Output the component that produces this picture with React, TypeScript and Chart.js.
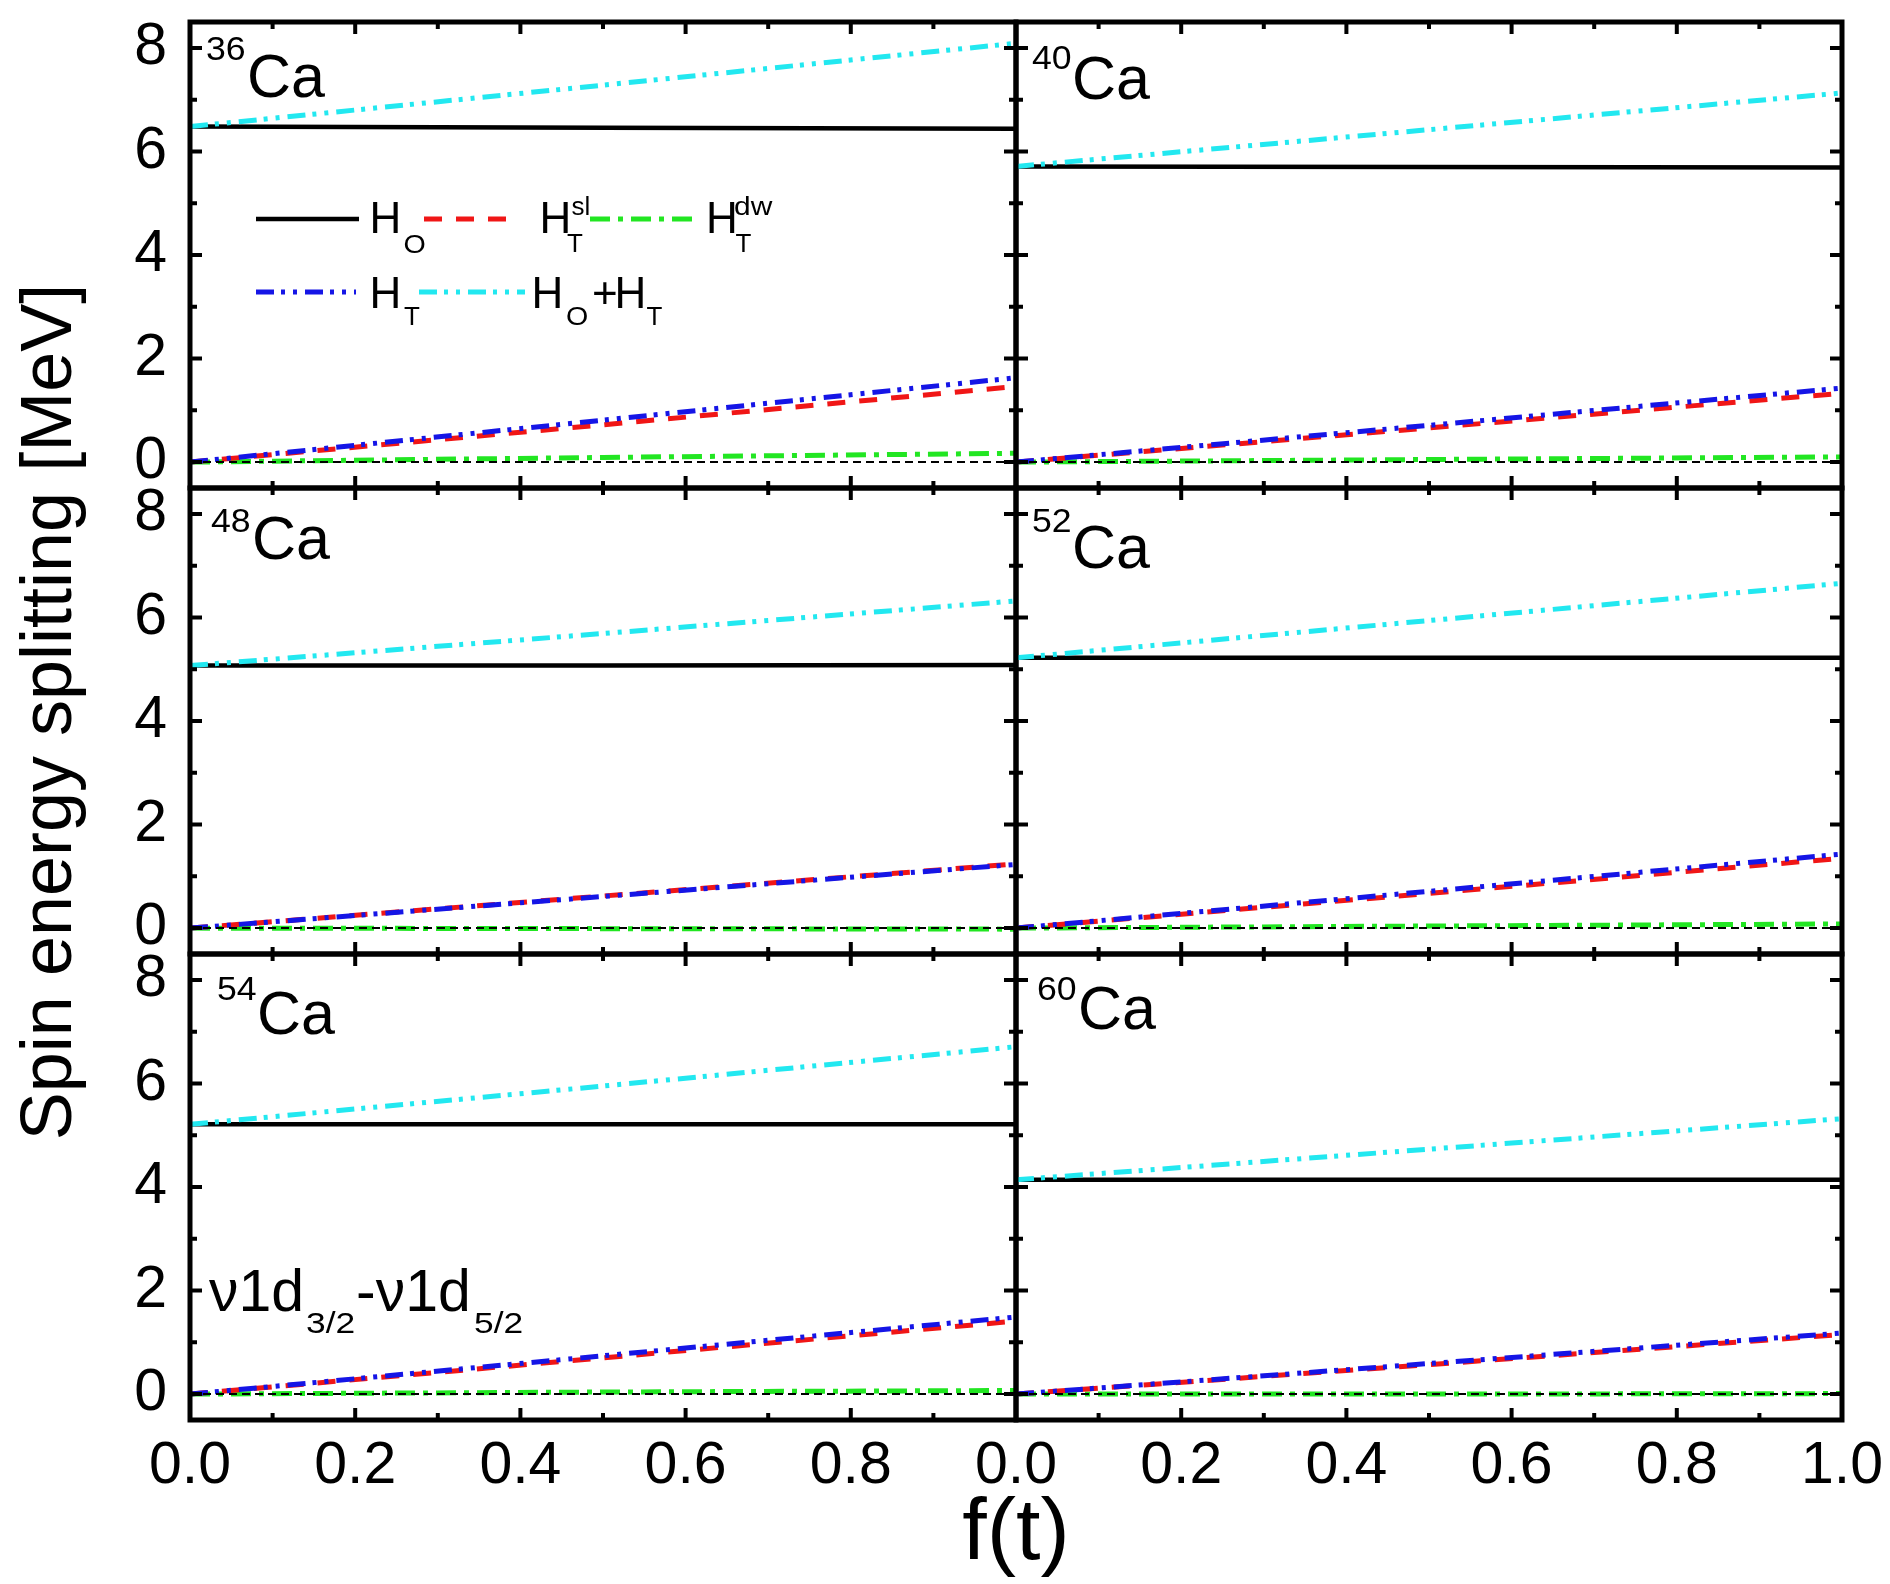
"use client"

import { useEffect, useRef } from "react"
import { Chart, registerables } from "chart.js"

Chart.register(...registerables)

// values (spin splitting in MeV vs f(t))
const nuclei = ["36", "40", "48", "52", "54", "60"]
const fValues = [0, 0.5, 1.0]
const hO = [
  [6.48, 6.46, 6.44],
  [5.71, 5.7, 5.69],
  [5.07, 5.07, 5.08],
  [5.22, 5.22, 5.22],
  [5.21, 5.21, 5.21],
  [4.14, 4.14, 4.14],
]
const hTsl = [
  [0, 0.72, 1.46],
  [0, 0.66, 1.33],
  [0, 0.62, 1.24],
  [0, 0.67, 1.35],
  [0, 0.7, 1.41],
  [0, 0.57, 1.15],
]
const hTdw = [
  [0, 0.09, 0.17],
  [0, 0.05, 0.1],
  [0, -0.01, -0.02],
  [0, 0.04, 0.08],
  [0, 0.04, 0.07],
  [0, 0.0, 0.01],
]
const hT = [
  [0, 0.81, 1.63],
  [0, 0.71, 1.43],
  [0, 0.61, 1.23],
  [0, 0.71, 1.43],
  [0, 0.74, 1.49],
  [0, 0.59, 1.18],
]
const hOplusT = [
  [6.48, 7.28, 8.09],
  [5.71, 6.42, 7.13],
  [5.07, 5.69, 6.32],
  [5.22, 5.94, 6.66],
  [5.21, 5.95, 6.71],
  [4.14, 4.73, 5.32],
]
const zeroLine = [0, 0, 0]
const xTicks = [0, 0.1, 0.2, 0.3, 0.4, 0.5, 0.6, 0.7, 0.8, 0.9, 1.0]
const yTicks = [0, 1, 2, 3, 4, 5, 6, 7, 8]

const W = 1890
const H = 1584
const PLOT_LEFT = 190
const PLOT_TOP = 22
const PANEL_W = 826
const PANEL_H = 466
const FONT = "'Liberation Sans', Arial, Helvetica, sans-serif"

const SERIES = [
  { key: "zero", values: () => zeroLine, color: "#000000", dash: [8, 5], width: 2 },
  { key: "HT", values: (i: number) => hT[i], color: "#1515e6", dash: [18, 7, 4, 8, 4, 8], width: 5 },
  { key: "sl", values: (i: number) => hTsl[i], color: "#f01616", dash: [18, 14], width: 5 },
  { key: "dw", values: (i: number) => hTdw[i], color: "#22e622", dash: [20, 8, 5, 8], width: 5 },
  { key: "sum", values: (i: number) => hOplusT[i], color: "#22e8f0", dash: [18, 7, 4, 8, 4, 8], width: 5 },
  { key: "HO", values: (i: number) => hO[i], color: "#000000", dash: [], width: 4.5 },
]

// label placement per panel (absolute page coords)
const panelLabels = [
  { supX: 206, supTop: 36, caX: 247, caBase: 97 },
  { supX: 1032, supTop: 45, caX: 1072, caBase: 99 },
  { supX: 211, supTop: 508, caX: 252, caBase: 559 },
  { supX: 1032, supTop: 508, caX: 1072, caBase: 568 },
  { supX: 217, supTop: 976, caX: 257, caBase: 1034 },
  { supX: 1037, supTop: 976, caX: 1078, caBase: 1029 },
]

function text(ctx: CanvasRenderingContext2D, s: string, x: number, y: number, size: number, stretch = 1) {
  ctx.font = `${size}px ${FONT}`
  if (stretch === 1) {
    ctx.fillText(s, x, y)
    return
  }
  ctx.save()
  ctx.translate(x, y)
  ctx.scale(stretch, 1)
  ctx.fillText(s, 0, 0)
  ctx.restore()
}

const framePlugin = {
  id: "frame",
  afterDatasetsDraw(chart: any) {
    const { ctx, chartArea: ca } = chart
    const xs = chart.scales.x
    const ys = chart.scales.y
    ctx.save()
    ctx.strokeStyle = "#000"
    ctx.setLineDash([])
    ctx.lineWidth = 5
    ctx.strokeRect(ca.left, ca.top, ca.right - ca.left, ca.bottom - ca.top)
    ctx.lineWidth = 4
    ctx.beginPath()
    xTicks.forEach((v) => {
      const px = xs.getPixelForValue(v)
      const len = Math.round(v * 10) % 2 === 0 ? 12 : 7
      ctx.moveTo(px, ca.bottom)
      ctx.lineTo(px, ca.bottom - len)
      ctx.moveTo(px, ca.top)
      ctx.lineTo(px, ca.top + len)
    })
    yTicks.forEach((v) => {
      const py = ys.getPixelForValue(v)
      const len = v % 2 === 0 ? 12 : 7
      ctx.moveTo(ca.left, py)
      ctx.lineTo(ca.left + len, py)
      ctx.moveTo(ca.right, py)
      ctx.lineTo(ca.right - len, py)
    })
    ctx.stroke()
    ctx.restore()
  },
}

const labelPlugin = {
  id: "panelLabel",
  afterDraw(chart: any, _args: any, opts: any) {
    const i = opts.index as number
    const p = panelLabels[i]
    const ctx = chart.ctx as CanvasRenderingContext2D
    ctx.save()
    ctx.fillStyle = "#000"
    ctx.textBaseline = "alphabetic"
    ctx.textAlign = "left"
    text(ctx, nuclei[i], p.supX, p.supTop + 24, 33, 1.08)
    text(ctx, "Ca", p.caX, p.caBase, 61)

    if (i === 4) {
      text(ctx, "ν1d", 209, 1311, 59)
      text(ctx, "3/2", 306, 1333, 29, 1.22)
      text(ctx, "-ν1d", 356, 1311, 59)
      text(ctx, "5/2", 474, 1333, 29, 1.22)
    }

    if (i === 0) {
      // legend
      const ds = chart.data.datasets
      const byKey = (k: string) => ds.find((d: any) => d.key === k)
      const samples = [
        { k: "HO", x1: 256, x2: 359, y: 219 },
        { k: "sl", x1: 424, x2: 516, y: 219 },
        { k: "dw", x1: 590, x2: 695, y: 219 },
        { k: "HT", x1: 256, x2: 356, y: 292 },
        { k: "sum", x1: 419, x2: 525, y: 292 },
      ]
      samples.forEach((s) => {
        const d = byKey(s.k)
        ctx.strokeStyle = d.borderColor
        ctx.lineWidth = d.borderWidth
        ctx.setLineDash(d.borderDash)
        ctx.beginPath()
        ctx.moveTo(s.x1, s.y)
        ctx.lineTo(s.x2, s.y)
        ctx.stroke()
      })
      ctx.setLineDash([])
      text(ctx, "H", 369.5, 233, 44)
      text(ctx, "O", 403.5, 253, 26, 1.1)
      text(ctx, "H", 539.5, 233, 44)
      text(ctx, "sl", 571.5, 214.5, 26)
      text(ctx, "T", 567, 252, 26)
      text(ctx, "H", 706, 233, 44)
      text(ctx, "dw", 734, 214.5, 26, 1.15)
      text(ctx, "T", 735.5, 252, 26)
      text(ctx, "H", 369.5, 307.6, 44)
      text(ctx, "T", 404, 325, 26)
      text(ctx, "H", 531.5, 307.6, 44)
      text(ctx, "O", 566, 325, 26, 1.1)
      text(ctx, "+", 592, 307.6, 44)
      text(ctx, "H", 614.5, 307.6, 44)
      text(ctx, "T", 646.5, 325, 26)

      // shared axis titles
      ctx.textAlign = "center"
      text(ctx, "f(t)", 1016, 1559, 88)
      ctx.translate(70.5, 712)
      ctx.rotate(-Math.PI / 2)
      text(ctx, "Spin energy splitting [MeV]", 0, 0, 72)
    }
    ctx.restore()
  },
}

function Panel({ index }: { index: number }) {
  const canvasRef = useRef<HTMLCanvasElement>(null)

  useEffect(() => {
    if (!canvasRef.current) return
    const row = Math.floor(index / 2)
    const col = index % 2
    const left = PLOT_LEFT + col * PANEL_W
    const top = PLOT_TOP + row * PANEL_H
    const yAxisW = col === 0 ? 120 : 0
    const xAxisH = row === 2 ? 90 : 0

    const datasets = SERIES.map((s) => ({
      key: s.key,
      data: fValues.map((f, j) => ({ x: f, y: s.values(index)[j] })),
      borderColor: s.color,
      borderWidth: s.width,
      borderDash: s.dash,
      borderCapStyle: "butt",
      pointRadius: 0,
      fill: false,
      tension: 0,
    }))

    const tickFont = { family: FONT, size: 59 }

    const chart = new Chart(canvasRef.current, {
      type: "line",
      data: { datasets } as any,
      options: {
        responsive: false,
        animation: false,
        events: [],
        layout: {
          autoPadding: false,
          padding: {
            left: left - yAxisW,
            top,
            right: W - left - PANEL_W,
            bottom: H - top - PANEL_H - xAxisH,
          },
        },
        plugins: {
          legend: { display: false },
          tooltip: { enabled: false },
          panelLabel: { index },
        } as any,
        scales: {
          x: {
            type: "linear",
            min: 0,
            max: 1,
            display: row === 2,
            grid: { display: false },
            border: { display: false },
            afterBuildTicks: (s: any) => {
              s.ticks = xTicks.map((v) => ({ value: v }))
            },
            afterFit: (s: any) => {
              s.height = xAxisH
              s.paddingLeft = 0
              s.paddingRight = 0
            },
            ticks: {
              autoSkip: false,
              maxRotation: 0,
              minRotation: 0,
              padding: 3,
              color: "#000",
              font: tickFont,
              callback: (v: any) => {
                const k = Math.round(Number(v) * 10)
                if (k % 2 !== 0) return ""
                if (col === 0 && k === 10) return ""
                return (k / 10).toFixed(1)
              },
            },
          },
          y: {
            type: "linear",
            min: -0.5,
            max: 8.5,
            display: col === 0,
            grid: { display: false },
            border: { display: false },
            afterBuildTicks: (s: any) => {
              s.ticks = yTicks.map((v) => ({ value: v }))
            },
            afterFit: (s: any) => {
              s.width = yAxisW
              s.paddingTop = 0
              s.paddingBottom = 0
            },
            ticks: {
              padding: 15,
              color: "#000",
              font: tickFont,
              callback: (v: any) => (Number(v) % 2 === 0 ? String(v) : ""),
            },
          },
        },
      } as any,
      plugins: [framePlugin, labelPlugin],
    })

    return () => chart.destroy()
  }, [index])

  return (
    <canvas
      ref={canvasRef}
      width={W}
      height={H}
      style={{ position: "absolute", left: 0, top: 0, width: W, height: H }}
    />
  )
}

export default function App() {
  useEffect(() => {
    document.body.style.margin = "0"
  }, [])

  return (
    <div style={{ position: "absolute", left: 0, top: 0, width: W, height: H, background: "#fff", overflow: "hidden" }}>
      {nuclei.map((n, i) => (
        <Panel key={n} index={i} />
      ))}
    </div>
  )
}
